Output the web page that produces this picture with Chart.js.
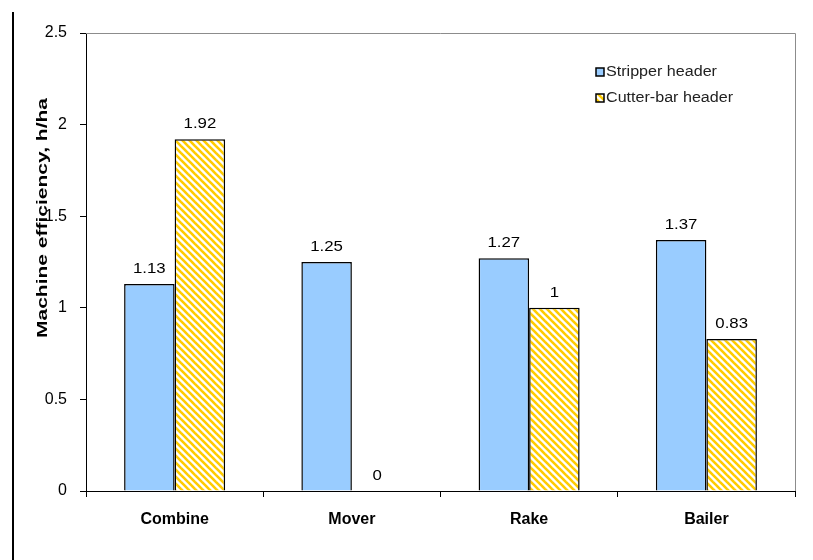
<!DOCTYPE html>
<html>
<head>
<meta charset="utf-8">
<script src="https://cdn.jsdelivr.net/npm/chart.js@4/dist/chart.umd.min.js"></script>
<style>
  html, body { margin: 0; padding: 0; background: #ffffff; }
  #wrap { width: 813px; height: 560px; position: relative; }
</style>
</head>
<body>
<div id="wrap"><canvas id="chart"></canvas></div>
<script>
// Machine efficiency by operation, two header types
const categories = ['Combine', 'Mover', 'Rake', 'Bailer'];
const seriesNames = ['Stripper header', 'Cutter-bar header'];
const stripperValues = [1.13, 1.25, 1.27, 1.37];
const cutterBarValues = [1.92, 0, 1, 0.83];
const yTicks = [0, 0.5, 1, 1.5, 2, 2.5];
const yTitle = 'Machine efficiency, h/ha';

const FONT = '"Liberation Sans", Arial, sans-serif';

// Yellow diagonal hatch on white
function makeHatch(color) {
  const n = 7;
  const c = document.createElement('canvas');
  c.width = n; c.height = n;
  const g = c.getContext('2d');
  g.fillStyle = '#ffffff';
  g.fillRect(0, 0, n, n);
  g.strokeStyle = color;
  g.lineWidth = 2.6;
  for (const off of [-n, 0, n]) {
    g.beginPath();
    g.moveTo(off - 1, -1);
    g.lineTo(off + n + 1, n + 1);
    g.stroke();
  }
  return g.createPattern(c, 'repeat');
}
const hatch = makeHatch('#FFCC00');

// Draws text widened horizontally by sx
function wideText(ctx, text, x, y, sx) {
  ctx.save();
  ctx.translate(x, y);
  ctx.scale(sx, 1);
  ctx.fillText(text, 0, 0);
  ctx.restore();
}

// Frame, value labels, axis title and legend drawn over the chart
const decorations = {
  id: 'decorations',
  afterDatasetsDraw(chart) {
    const { ctx, chartArea: a } = chart;
    ctx.save();
    // gray top/right edges of the plot area
    ctx.strokeStyle = '#8c8c8c';
    ctx.lineWidth = 1;
    ctx.beginPath();
    ctx.moveTo(a.left, a.top + 0.5);
    ctx.lineTo(a.right + 0.5, a.top + 0.5);
    ctx.lineTo(a.right + 0.5, a.bottom);
    ctx.stroke();
    // outer vertical rule
    ctx.strokeStyle = '#000000';
    ctx.lineWidth = 2;
    ctx.beginPath();
    ctx.moveTo(13, 12);
    ctx.lineTo(13, 560);
    ctx.stroke();

    // value labels above bars
    ctx.fillStyle = '#000000';
    ctx.font = '14px ' + FONT;
    ctx.textAlign = 'center';
    ctx.textBaseline = 'bottom';
    chart.data.datasets.forEach((ds, di) => {
      const meta = chart.getDatasetMeta(di);
      meta.data.forEach((bar, i) => {
        wideText(ctx, String(ds.data[i]), bar.x, bar.y - 8, 1.2);
      });
    });

    // y axis title (elongated along its reading direction)
    ctx.save();
    ctx.translate(43, 218);
    ctx.rotate(-Math.PI / 2);
    ctx.scale(1.5, 1);
    ctx.font = 'bold 14px ' + FONT;
    ctx.textAlign = 'center';
    ctx.textBaseline = 'middle';
    ctx.fillText(yTitle, 0, 0);
    ctx.restore();

    // legend
    const lx = 596, ly = [72, 98];
    chart.data.datasets.forEach((ds, di) => {
      const y = ly[di];
      ctx.fillStyle = ds.backgroundColor;
      ctx.fillRect(lx, y - 4, 8, 8);
      ctx.strokeStyle = '#000000';
      ctx.lineWidth = 1.5;
      ctx.strokeRect(lx, y - 4, 8, 8);
      ctx.fillStyle = '#222222';
      ctx.font = '14px ' + FONT;
      ctx.textAlign = 'left';
      ctx.textBaseline = 'middle';
      wideText(ctx, ds.label, lx + 10, y, 1.15);
    });
    ctx.restore();
  }
};

new Chart(document.getElementById('chart'), {
  type: 'bar',
  data: {
    labels: categories,
    datasets: [
      {
        label: seriesNames[0],
        data: stripperValues,
        backgroundColor: '#99CCFF',
        borderColor: '#000000',
        borderWidth: 1.5,
        categoryPercentage: 0.57,
        barPercentage: 1.0
      },
      {
        label: seriesNames[1],
        data: cutterBarValues,
        backgroundColor: hatch,
        borderColor: '#000000',
        borderWidth: (c) => (c.raw === 0 ? 0 : 1.5),
        categoryPercentage: 0.57,
        barPercentage: 1.0
      }
    ]
  },
  options: {
    responsive: true,
    maintainAspectRatio: false,
    animation: false,
    layout: { padding: { top: 33, right: 18, bottom: 0, left: 0 } },
    plugins: {
      legend: { display: false },
      tooltip: { enabled: false }
    },
    scales: {
      x: {
        grid: { display: true, drawOnChartArea: false, drawTicks: true, tickLength: 6, color: '#000000', offset: true },
        border: { display: true, color: '#000000', width: 1 },
        ticks: { color: '#000000', font: { family: FONT, size: 16, weight: 'bold' }, padding: 13 },
        afterFit(s) { s.height = 69; }
      },
      y: {
        min: 0,
        max: 2.5,
        afterBuildTicks(s) { s.ticks = yTicks.map(v => ({ value: v })); },
        grid: { display: true, drawOnChartArea: false, drawTicks: true, tickLength: 6, color: '#000000' },
        border: { display: true, color: '#000000', width: 1 },
        ticks: {
          color: '#000000',
          font: { family: FONT, size: 16 },
          padding: 13,
          callback: (v) => String(v)
        },
        afterFit(s) { s.width = 86; }
      }
    }
  },
  plugins: [decorations]
});
</script>
</body>
</html>
